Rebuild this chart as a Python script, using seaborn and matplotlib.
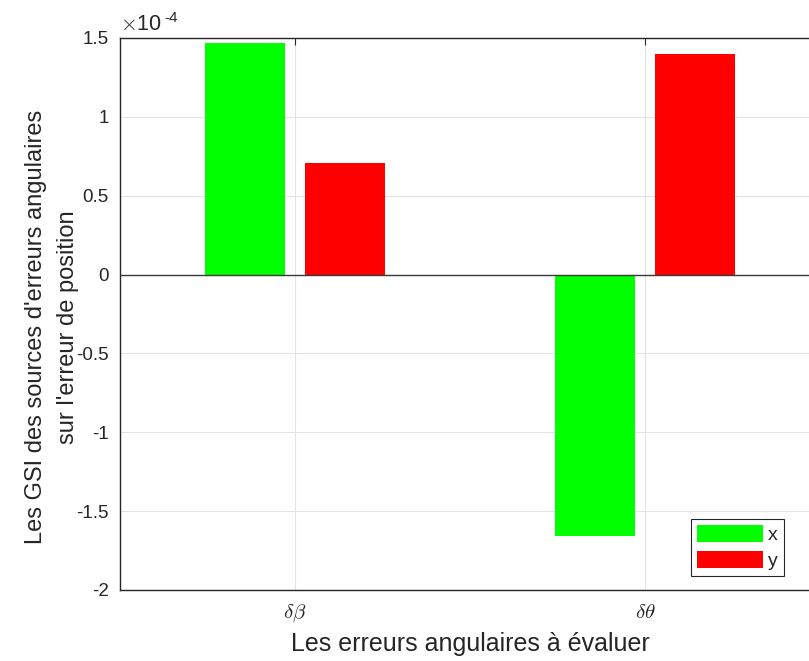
import numpy as np
import pandas as pd
import matplotlib
matplotlib.use("Agg")
import matplotlib.pyplot as plt
import seaborn as sns
from matplotlib.ticker import FuncFormatter, FixedLocator

categories = [r"$\delta\beta$", r"$\delta\theta$"]
series_names = ["x", "y"]
x_values = [1.47e-4, -1.66e-4]
y_values = [0.705e-4, 1.40e-4]
y_ticks = [-2e-4, -1.5e-4, -1e-4, -0.5e-4, 0, 0.5e-4, 1e-4, 1.5e-4]

df = pd.DataFrame({
    "erreur": categories * 2,
    "axe": [series_names[0]] * len(categories) + [series_names[1]] * len(categories),
    "gsi": x_values + y_values,
})

sns.set_style("white")
plt.rcParams["font.family"] = ["Liberation Sans", "DejaVu Sans"]
plt.rcParams["mathtext.fontset"] = "cm"

fig = plt.figure(figsize=(8.09, 6.61), dpi=100)
ax = fig.add_axes([120 / 809, 1 - 590 / 661, 700 / 809, 552 / 661])

sns.barplot(data=df, x="erreur", y="gsi", hue="axe",
            palette={"x": "#00FF00", "y": "#FF0000"},
            width=0.571, gap=0.2, saturation=1, edgecolor="none",
            ax=ax, legend=True)

ax.set_xlim(-0.5, 1.5)
ax.set_ylim(-2e-4, 1.5e-4)
ax.yaxis.set_major_locator(FixedLocator(y_ticks))
ax.yaxis.set_major_formatter(FuncFormatter(lambda v, p: f"{round(v * 1e4, 2):g}"))
ax.set_axisbelow(True)
ax.grid(True, color="#e3e3e3", lw=0.8)
ax.axhline(0, color="#3a3a3a", lw=1.0, zorder=3)

for s in ax.spines.values():
    s.set_color("#262626")
    s.set_linewidth(1.0)

ax.tick_params(direction="in", top=True, right=True, length=5,
               color="#262626", labelcolor="#262626")
ax.tick_params(axis="y", labelsize=13.5, pad=8)
ax.tick_params(axis="x", labelsize=15, pad=9)

ax.set_xlabel("Les erreurs angulaires à évaluer", fontsize=18, color="#262626", labelpad=6)
ax.set_ylabel("Les GSI des sources d'erreurs angulaires\nsur l'erreur de position",
              fontsize=17, color="#262626", linespacing=1.6)
ax.yaxis.set_label_coords(-0.058, 0.476)

ax.text(0.0, 1.006, r"$\times$10", transform=ax.transAxes,
        fontsize=15.5, color="#262626", ha="left", va="bottom")
ax.text(0.064, 1.024, "-4", transform=ax.transAxes,
        fontsize=11, color="#262626", ha="left", va="bottom")

handles, labels = ax.get_legend_handles_labels()
leg = ax.legend(handles, labels, loc="lower left", bbox_to_anchor=(0.816, 0.025),
                fontsize=14, frameon=True, fancybox=False, framealpha=1,
                edgecolor="#262626", handlelength=3.4, handleheight=1.0,
                handletextpad=0.25, borderpad=0.3, labelspacing=0.35,
                borderaxespad=0)
leg.get_frame().set_linewidth(0.8)

fig.savefig("out.png", dpi=100)
